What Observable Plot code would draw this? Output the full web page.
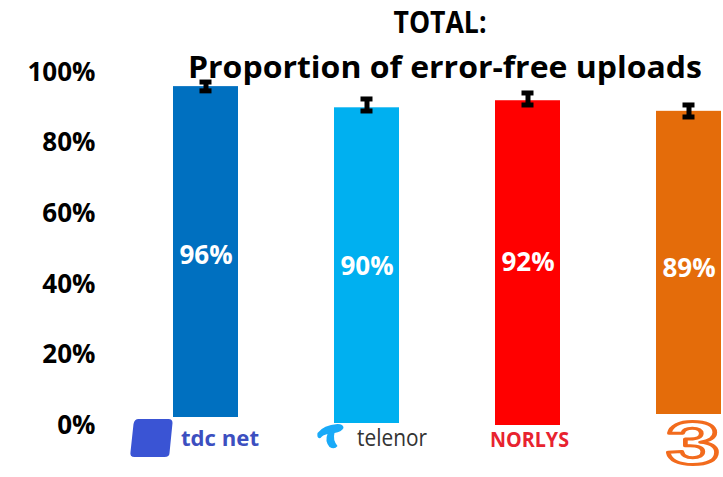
<!DOCTYPE html>
<html>
<head>
<meta charset="utf-8">
<script src="https://cdn.jsdelivr.net/npm/d3@7"></script>
<script src="https://cdn.jsdelivr.net/npm/@observablehq/plot@0.6"></script>
<style>
  html, body { margin: 0; padding: 0; background: #fff; }
  svg { display: block; }
</style>
</head>
<body>
<div id="chart"></div>
<script>
const operators = ["tdc net", "telenor", "NORLYS", "3"];
const values = [96, 90, 92, 89];
const errLow = [94.8, 89.1, 90.8, 87.4];
const errHigh = [97.3, 92.5, 94.2, 90.8];
const colors = ["#0070c0", "#00b0f0", "#ff0000", "#e46c0a"];
const yTicks = [0, 20, 40, 60, 80, 100];
const titleLine1 = "TOTAL:";
const titleLine2 = "Proportion of error-free uploads";

const data = operators.map((op, i) => ({
  op, value: values[i], lo: errLow[i], hi: errHigh[i], color: colors[i], label: values[i] + "%"
}));

const font = "'Open Sans', 'DejaVu Sans', sans-serif";

const plot = Plot.plot({
  width: 723,
  height: 477,
  marginTop: 72,
  marginBottom: 52,
  marginLeft: 173,
  marginRight: 2,
  style: { fontFamily: font, background: "#fff", overflow: "visible" },
  x: { domain: operators, paddingInner: 96 / 161, paddingOuter: 0, axis: null },
  y: { domain: [0, 100], axis: null },
  marks: [
    Plot.barY(data, { x: "op", y: "value", fill: "color" }),
    Plot.ruleX(data, { x: "op", y1: "lo", y2: "hi", stroke: "black", strokeWidth: 5 }),
    Plot.tickY(data, { x: "op", y: "lo", stroke: "black", strokeWidth: 5, insetLeft: 26.5, insetRight: 26.5 }),
    Plot.tickY(data, { x: "op", y: "hi", stroke: "black", strokeWidth: 5, insetLeft: 26.5, insetRight: 26.5 }),
    Plot.text(data, { x: "op", y: d => d.value / 2, text: "label", fill: "white", fontSize: 26, fontWeight: "bold" }),
    Plot.axisY(yTicks, { tickSize: 0, tickPadding: 78, tickFormat: d => d + "%", fontSize: 26, fontWeight: "bold", fill: "black", anchor: "left" })
  ]
});

const svg = d3.select(plot);
const xs = plot.scale("x");
const bw = xs.bandwidth;
const cx = op => xs.apply(op) + bw / 2;

// Title
svg.append("text").attr("x", 440).attr("y", 33).attr("text-anchor", "middle")
  .attr("font-family", font).attr("font-weight", "bold").attr("font-size", 30)
  .attr("textLength", 93).attr("lengthAdjust", "spacingAndGlyphs").attr("fill", "black")
  .text(titleLine1);
svg.append("text").attr("x", 445).attr("y", 78).attr("text-anchor", "middle")
  .attr("font-family", font).attr("font-weight", "bold").attr("font-size", 31)
  .attr("textLength", 514).attr("lengthAdjust", "spacingAndGlyphs").attr("fill", "black")
  .text(titleLine2);

// Logos
const logos = svg.append("g");
// tdc net
{
  const c = cx(operators[0]);
  const g = logos.append("g").attr("transform", `translate(${c},0)`);
  g.append("rect").attr("x", -80).attr("y", 417).attr("width", 150).attr("height", 45).attr("fill", "#fff");
  g.append("path").attr("d", "M-67,419 L-37,419 Q-33,419 -33,423 L-36,453 Q-36,457 -41,457 L-71,457 Q-76,457 -75,452 L-72,424 Q-71,419 -67,419 Z")
    .attr("fill", "#3a54d4");
  g.append("text").attr("x", -24.5).attr("y", 446).attr("text-anchor", "start").attr("font-family", font).attr("font-weight", "bold")
    .attr("font-size", 22).attr("fill", "#3c4fc0").attr("textLength", 78).attr("lengthAdjust", "spacingAndGlyphs").text(operators[0]);
}
// telenor
{
  const c = cx(operators[1]);
  const g = logos.append("g").attr("transform", `translate(${c},0)`);
  g.append("rect").attr("x", -55).attr("y", 423).attr("width", 125).attr("height", 35).attr("fill", "#fff");
  g.append("path").attr("d", "M-49,433 Q-43,425 -29,424 Q-23,424 -23,428 Q-25,432 -32,433 Q-34,440 -29,446 Q-32,450 -37,447 Q-42,441 -39,434 Q-44,435 -46,438 Q-50,439 -49,433 Z")
    .attr("fill", "#19aaf8");
  g.append("text").attr("x", -9.5).attr("y", 446).attr("text-anchor", "start").attr("font-family", font).attr("font-weight", "normal")
    .attr("font-size", 23).attr("fill", "#333").attr("textLength", 70).attr("lengthAdjust", "spacingAndGlyphs").text(operators[1]);
}
// NORLYS
{
  const c = cx(operators[2]);
  const g = logos.append("g").attr("transform", `translate(${c},0)`);
  g.append("text").attr("x", 2).attr("y", 447).attr("text-anchor", "middle").attr("font-family", font).attr("font-weight", "bold")
    .attr("font-size", 21).attr("fill", "#e8232f").attr("textLength", 79).attr("lengthAdjust", "spacingAndGlyphs").text(operators[2]);
}
// 3
{
  const c = cx(operators[3]);
  const g = logos.append("g").attr("transform", `translate(${c},0)`);
  g.append("rect").attr("x", -35).attr("y", 414).attr("width", 70).attr("height", 63).attr("fill", "#fff");
  g.append("text").attr("x", 4.5).attr("y", 464).attr("text-anchor", "middle").attr("font-family", "'Liberation Sans', Arial, sans-serif").attr("font-weight", "bold")
    .attr("font-size", 62).attr("fill", "#fff").attr("stroke", "#f26b1d").attr("stroke-width", 3).attr("stroke-linejoin", "round")
    .attr("textLength", 54).attr("lengthAdjust", "spacingAndGlyphs").text(operators[3]);
}

document.getElementById("chart").appendChild(plot);
</script>
</body>
</html>
